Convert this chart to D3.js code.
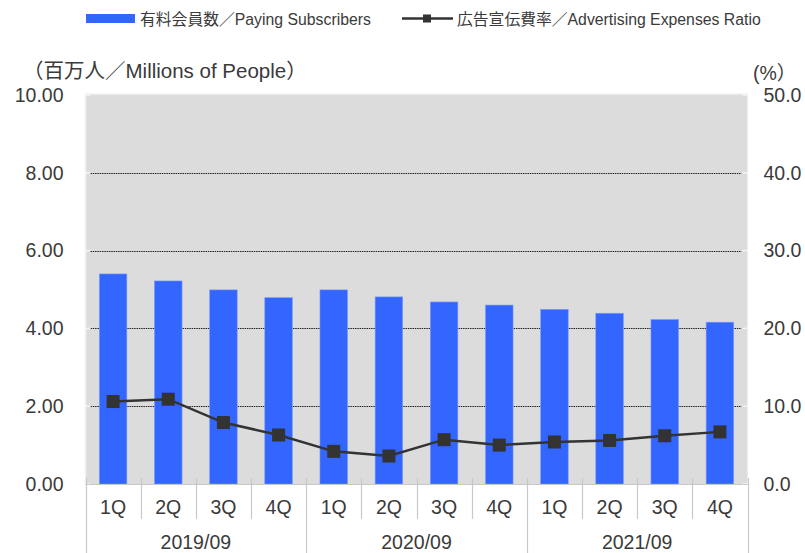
<!DOCTYPE html>
<html>
<head>
<meta charset="utf-8">
<script src="https://cdn.jsdelivr.net/npm/d3@7"></script>
<style>
  body { margin: 0; background: #fff; }
  text { font-family: "Liberation Sans", Arial, "Noto Sans CJK JP", sans-serif; fill: #3a3a3a; }
</style>
</head>
<body>
<div id="app"></div>
<script>
// Data
const quarters = ['1Q', '2Q', '3Q', '4Q', '1Q', '2Q', '3Q', '4Q', '1Q', '2Q', '3Q', '4Q'];
const years = ['2019/09', '2020/09', '2021/09'];
const subscribers = [5.40, 5.22, 4.99, 4.79, 4.99, 4.81, 4.68, 4.60, 4.49, 4.39, 4.23, 4.16];
const adRatio = [10.6, 10.9, 7.9, 6.3, 4.2, 3.6, 5.7, 5.0, 5.4, 5.6, 6.2, 6.7];
const leftTicks = [0, 2, 4, 6, 8, 10];
const rightTicks = [0, 10, 20, 30, 40, 50];

const width = 805, height = 553;
const plot = { left: 85.5, right: 747.5, top: 95, bottom: 484 };

const svg = d3.select('#app').append('svg')
    .attr('width', width)
    .attr('height', height);

const x = d3.scaleBand()
    .domain(d3.range(quarters.length))
    .range([plot.left, plot.right])
    .paddingInner(0.5)
    .paddingOuter(0.25);

const yL = d3.scaleLinear().domain([0, 10]).range([plot.bottom, plot.top]);
const yR = d3.scaleLinear().domain([0, 50]).range([plot.bottom, plot.top]);

// plot background
svg.append('rect')
    .attr('x', plot.left)
    .attr('y', plot.top - 1)
    .attr('width', plot.right - plot.left)
    .attr('height', plot.bottom - plot.top + 1)
    .attr('fill', '#dcdcdc');

// light frame on left / top
svg.append('path')
    .attr('d', `M${plot.left},${plot.bottom} V${plot.top - 1} H${plot.right}`)
    .attr('fill', 'none')
    .attr('stroke', '#f2f2f2')
    .attr('stroke-width', 1.5);

// dotted grid
svg.append('g')
    .selectAll('line')
    .data(leftTicks.filter(d => d > 0 && d < 10))
    .enter().append('line')
    .attr('x1', plot.left + 5)
    .attr('x2', plot.right - 6)
    .attr('y1', d => Math.round(yL(d)) + 0.5)
    .attr('y2', d => Math.round(yL(d)) + 0.5)
    .attr('stroke', '#222')
    .attr('stroke-width', 1)
    .attr('stroke-dasharray', '1.5,0.8');

// white ticks on the frame
svg.append('g')
    .selectAll('line')
    .data(leftTicks)
    .enter().append('line')
    .attr('x1', plot.left)
    .attr('x2', plot.left + 5)
    .attr('y1', d => yL(d))
    .attr('y2', d => yL(d))
    .attr('stroke', '#f4f4f4')
    .attr('stroke-width', 1.5);

svg.append('g')
    .selectAll('line')
    .data(rightTicks)
    .enter().append('line')
    .attr('x1', plot.right - 5)
    .attr('x2', plot.right)
    .attr('y1', d => yR(d))
    .attr('y2', d => yR(d))
    .attr('stroke', '#f4f4f4')
    .attr('stroke-width', 1.5);

// bars
svg.append('g')
    .selectAll('rect')
    .data(subscribers)
    .enter().append('rect')
    .attr('x', (d, i) => x(i))
    .attr('y', d => yL(d))
    .attr('width', x.bandwidth())
    .attr('height', d => plot.bottom - yL(d))
    .attr('fill', '#3366ff')
    .attr('stroke', '#7f9cf5')
    .attr('stroke-width', 0.6);

// ratio line
const line = d3.line()
    .x((d, i) => x(i) + x.bandwidth() / 2)
    .y(d => yR(d));

svg.append('path')
    .datum(adRatio)
    .attr('d', line)
    .attr('fill', 'none')
    .attr('stroke', '#333')
    .attr('stroke-width', 2.5);

const mk = 13;
svg.append('g')
    .selectAll('rect')
    .data(adRatio)
    .enter().append('rect')
    .attr('x', (d, i) => x(i) + x.bandwidth() / 2 - mk / 2)
    .attr('y', d => yR(d) - mk / 2)
    .attr('width', mk)
    .attr('height', mk)
    .attr('fill', '#333');

// axes
const leftAxis = svg.append('g')
    .attr('transform', `translate(${plot.left},0)`)
    .call(d3.axisLeft(yL).tickValues(leftTicks).tickFormat(d3.format('.2f')).tickSize(0).tickPadding(22));
leftAxis.select('.domain').remove();

const rightAxis = svg.append('g')
    .attr('transform', `translate(${plot.right},0)`)
    .call(d3.axisRight(yR).tickValues(rightTicks).tickFormat(d3.format('.1f')).tickSize(0).tickPadding(16));
rightAxis.select('.domain').remove();

svg.selectAll('.tick text')
    .style('font-size', '19.5px')
    .attr('fill', '#3a3a3a');

// category axis
svg.append('line')
    .attr('x1', plot.left)
    .attr('x2', plot.right)
    .attr('y1', plot.bottom + 0.5)
    .attr('y2', plot.bottom + 0.5)
    .attr('stroke', '#c8c8c8');

const bottomAxis = svg.append('g')
    .attr('transform', `translate(0,${plot.bottom})`)
    .call(d3.axisBottom(x).tickFormat(i => quarters[i]).tickSize(0).tickPadding(16));
bottomAxis.select('.domain').remove();
bottomAxis.selectAll('text').style('font-size', '19.5px').attr('fill', '#3a3a3a');

// left edge of category i (works for i == quarters.length too)
const boundary = i => x(0) + x.bandwidth() / 2 - x.step() / 2 + i * x.step();

svg.append('g')
    .selectAll('line')
    .data(d3.range(quarters.length + 1))
    .enter().append('line')
    .attr('x1', i => Math.round(boundary(i)) + 0.5)
    .attr('x2', i => Math.round(boundary(i)) + 0.5)
    .attr('y1', plot.bottom - 6)
    .attr('y2', i => i % 4 === 0 ? height : 519)
    .attr('stroke', '#c8c8c8')
    .attr('stroke-width', 1.2);

svg.append('g')
    .selectAll('text')
    .data(years)
    .enter().append('text')
    .attr('x', (d, g) => (boundary(g * 4) + boundary(g * 4 + 4)) / 2)
    .attr('y', 542)
    .attr('dy', '0.35em')
    .attr('text-anchor', 'middle')
    .style('font-size', '19.5px')
    .text(d => d);

// unit labels
svg.append('text')
    .attr('x', 23)
    .attr('y', 71)
    .attr('dy', '0.35em')
    .style('font-size', '20.5px')
    .text('（百万人／Millions of People）');

svg.append('text')
    .attr('x', 753)
    .attr('y', 73)
    .attr('dy', '0.35em')
    .style('font-size', '19.5px')
    .text('(%）');

// legend
const legend = svg.append('g');
legend.append('rect')
    .attr('x', 86)
    .attr('y', 14)
    .attr('width', 49)
    .attr('height', 9)
    .attr('fill', '#3366ff');
legend.append('text')
    .attr('x', 140)
    .attr('y', 19)
    .attr('dy', '0.35em')
    .style('font-size', '15.8px')
    .text('有料会員数／Paying Subscribers');

legend.append('line')
    .attr('x1', 402)
    .attr('x2', 453)
    .attr('y1', 18.5)
    .attr('y2', 18.5)
    .attr('stroke', '#333')
    .attr('stroke-width', 2.5);
legend.append('rect')
    .attr('x', 423)
    .attr('y', 14.5)
    .attr('width', 8)
    .attr('height', 8)
    .attr('fill', '#333');
legend.append('text')
    .attr('x', 457)
    .attr('y', 19)
    .attr('dy', '0.35em')
    .style('font-size', '15.8px')
    .text('広告宣伝費率／Advertising Expenses Ratio');
</script>
</body>
</html>
